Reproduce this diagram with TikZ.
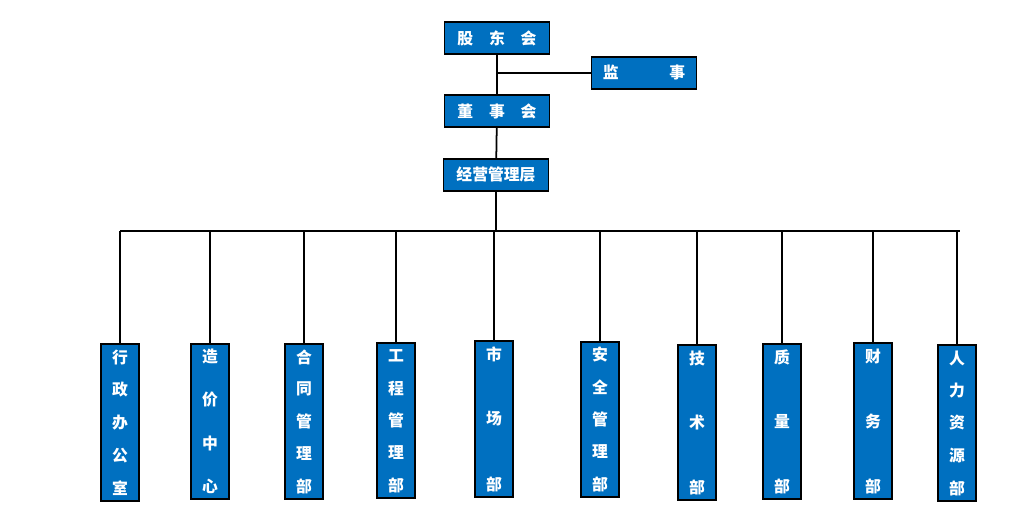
\documentclass[tikz,border=0pt]{standalone}
\usepackage{fontspec}
\newfontfamily\cjk{Noto Sans CJK SC}
\usetikzlibrary{calc}
\definecolor{boxblue}{RGB}{0,112,192}
\tikzset{
  topbox/.style={draw=black, line width=0.8pt, fill=boxblue, text=white, minimum width=2.1cm, minimum height=0.64cm, font=\cjk\fontsize{9}{9}\selectfont\bfseries},
  deptbox/.style={draw=black, line width=1pt, fill=boxblue, minimum width=0.76cm},
  deptchar/.style={text=white, font=\cjk\fontsize{9}{9}\selectfont\bfseries, inner sep=0pt},
  link/.style={line width=1pt}
}
% name, x, top, bottom, number of chars, chars
\newcommand\dept[6]{
  \node[deptbox, minimum height={(#4-#3)*0.02cm}, anchor=north] (#1) at (#2,#3) {};
  \draw[link] (#2,231) -- (#1.north);
  \foreach \c [count=\i] in {#6}
    \node[deptchar] at (#2,{#3+14+(\i-1)*(#4-#3-26)/(#5-1)}) {\c};
}

\begin{document}
\begin{tikzpicture}[x=0.02cm, y=-0.02cm]
  \useasboundingbox (0,0) rectangle (1020,527);

  % top part
  \node[topbox] (gdh) at (497,38) {股\quad 东\quad 会};
  \node[topbox] (js) at (644,73) {监\hspace{3.2em}事};
  \node[topbox] (dsh) at (497,111) {董\quad 事\quad 会};
  \node[topbox] (jyc) at (496,175) {经营管理层};
  \coordinate (jsj) at (gdh.south |- js);
  \coordinate (busl) at (120,231);
  \coordinate (busr) at (960,231);
  \coordinate (busm) at (jyc.south |- busl);

  \draw[link] (gdh) -- (dsh);
  \draw[link] (jsj) -- (js);
  \draw[link] (dsh) -- (jyc);
  \draw[link] (jyc) -- (busm);
  \draw[link] (busl) -- (busr);

  % departments
  \dept{xz}{120}{343}{500}{5}{行,政,办,公,室}
  \dept{zj}{210}{343}{498}{4}{造,价,中,心}
  \dept{ht}{304}{343}{498}{5}{合,同,管,理,部}
  \dept{gc}{396}{342}{497}{5}{工,程,管,理,部}
  \dept{sc}{494}{340}{496}{3}{市,场,部}
  \dept{aq}{600}{341}{496}{5}{安,全,管,理,部}
  \dept{js2}{697}{344}{499}{3}{技,术,部}
  \dept{zl}{782}{343}{498}{3}{质,量,部}
  \dept{cw}{873}{342}{498}{3}{财,务,部}
  \dept{rl}{957}{344}{500}{5}{人,力,资,源,部}
\end{tikzpicture}
\end{document}
